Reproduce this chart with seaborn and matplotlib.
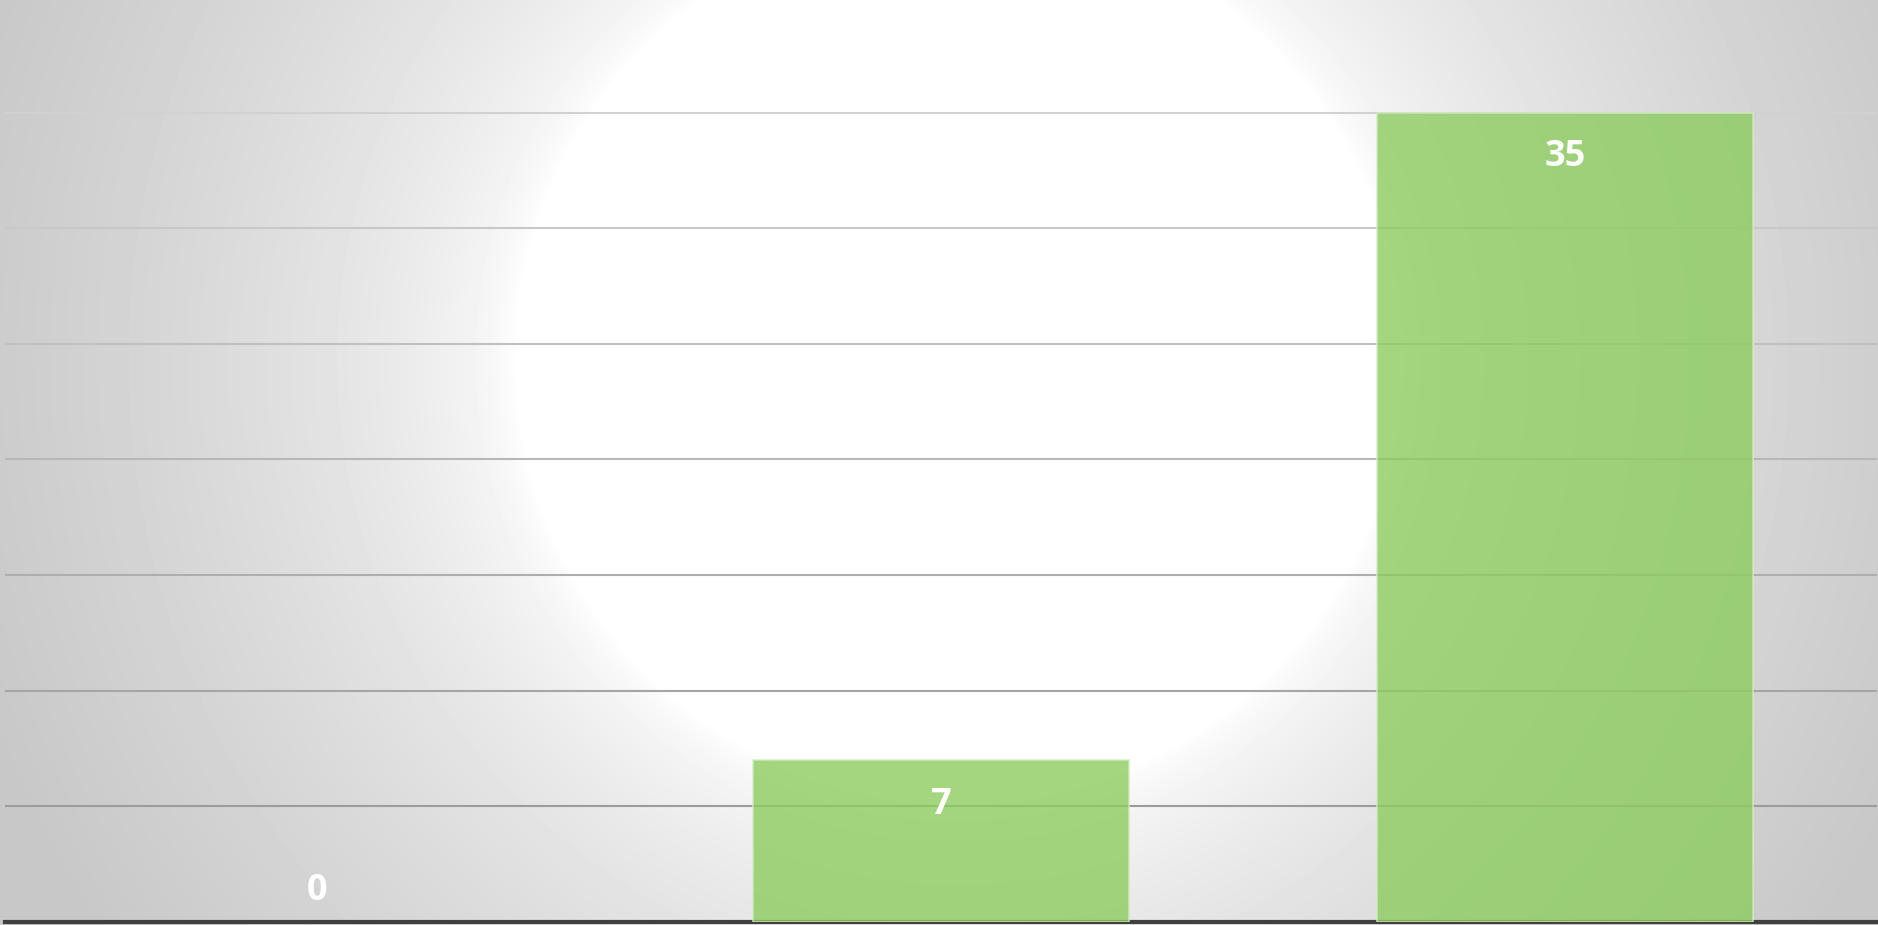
import numpy as np
import pandas as pd
import matplotlib
matplotlib.use("Agg")
import matplotlib.pyplot as plt
import seaborn as sns

# chart data
categories = ["Group 1", "Group 2", "Group 3"]
values = [0, 7, 35]
grid_step = 5

sns.set_theme(style="white")
plt.rcParams['font.family'] = ['Open Sans', 'DejaVu Sans']

W, H = 1878, 925
fig = plt.figure(figsize=(W / 100, H / 100), dpi=100)

# radial grey-to-white background
bg = fig.add_axes([0, 0, 1, 1])
yy, xx = np.mgrid[0:H, 0:W]
r = np.hypot(xx - 958, yy - 359)
t = np.clip((r - 443) / (1030 - 443), 0, 1) ** 0.6
img = 255 - 55 * t
bg.imshow(img, cmap="gray", vmin=0, vmax=255, aspect="auto", interpolation="bilinear")
bg.axis("off")

# main axes
ax = fig.add_axes([5 / W, 3 / H, 1872 / W, 922 / H])
ax.patch.set_alpha(0)

df = pd.DataFrame({"category": categories, "value": values})
sns.barplot(data=df, x="category", y="value", ax=ax, color="#8ccc5e",
            saturation=1, alpha=0.8, width=0.604, edgecolor="#d2ecbf",
            linewidth=1.2, zorder=3)
# no outline for empty bars
for patch in ax.patches:
    if patch.get_height() == 0:
        patch.set_linewidth(0)

ax.set_xlim(-0.5, len(categories) - 0.5)
ax.set_ylim(0, 39.87)
ax.set_yticks(np.arange(grid_step, max(values) + 1, grid_step))
ax.yaxis.grid(True, linewidth=1.5, zorder=1)
ax.set_axisbelow(True)
# gridlines get darker toward the bottom
grid_cols = plt.cm.gray(np.linspace(0.61, 0.82, len(ax.get_ygridlines())))
for line, c in zip(ax.get_ygridlines(), grid_cols):
    line.set_color(c)

ax.tick_params(left=False, bottom=False, labelleft=False, labelbottom=False)
ax.set_xlabel("")
ax.set_ylabel("")
for side in ["top", "left", "right"]:
    ax.spines[side].set_visible(False)
ax.spines["bottom"].set_color("#404040")
ax.spines["bottom"].set_linewidth(3)

# value labels inside the bar ends
for i, v in enumerate(values):
    offset = -32 if v > 0 else 22.5
    ax.annotate(str(v), (i, v), xytext=(0, offset), textcoords="offset points",
                ha="center", va="center", color="white", fontsize=26,
                fontweight="bold", zorder=5)

fig.savefig("out.png", dpi=100)
